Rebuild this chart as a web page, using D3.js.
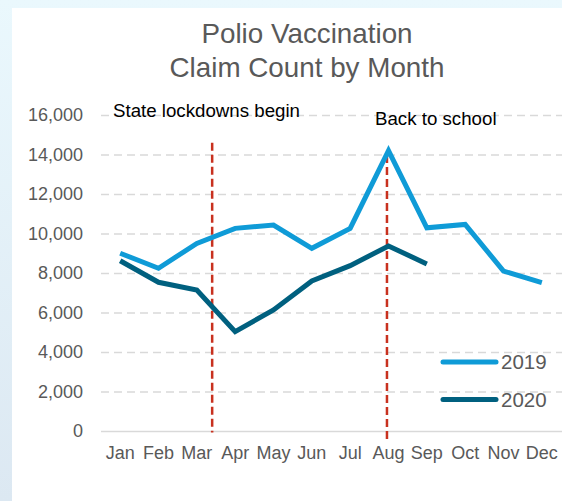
<!DOCTYPE html>
<html>
<head>
<meta charset="utf-8">
<script src="https://cdn.jsdelivr.net/npm/d3@7"></script>
<style>
  html, body { margin: 0; padding: 0; background: #fff; }
  svg { display: block; font-family: "Liberation Sans", Arial, sans-serif; }
</style>
</head>
<body>
<script>
// Monthly polio vaccination claim counts
const months = ["Jan","Feb","Mar","Apr","May","Jun","Jul","Aug","Sep","Oct","Nov","Dec"];
const claims2019 = [9000, 8240, 9500, 10260, 10430, 9250, 10260, 14190, 10290, 10460, 8100, 7510];
const claims2020 = [8620, 7530, 7140, 5030, 6130, 7600, 8370, 9370, 8460];
const yTicks = [0, 2000, 4000, 6000, 8000, 10000, 12000, 14000, 16000];
const seriesNames = ["2019", "2020"];
const seriesColors = ["#0F9BD7", "#00607F"];
const titleLines = ["Polio Vaccination", "Claim Count by Month"];
// Event markers: position in month index units (Jan = 0), vertical extent in claims
const events = [
  { label: "State lockdowns begin", at: 2.4, top: 14600, bottom: -80 },
  { label: "Back to school", at: 6.96, top: 13980, bottom: -400 }
];

const W = 562, H = 501;
const svg = d3.select("body").append("svg").attr("width", W).attr("height", H);

// Panel frame with a pale blue edge
const defs = svg.append("defs");
const grad = defs.append("linearGradient").attr("id", "edge").attr("x1", 0).attr("y1", 0).attr("x2", 0).attr("y2", 1);
grad.append("stop").attr("offset", "0%").attr("stop-color", "#EAF8FD");
grad.append("stop").attr("offset", "100%").attr("stop-color", "#DCE8F2");
svg.append("rect").attr("width", W).attr("height", H).attr("fill", "url(#edge)");
svg.append("rect").attr("x", 12).attr("y", 8).attr("width", W - 12).attr("height", H - 8).attr("fill", "#fff");

const plot = { left: 101, right: 561, top: 115, bottom: 431 };

const x = d3.scaleBand().domain(months).range([plot.left, plot.right]);
const xc = m => x(m) + x.bandwidth() / 2;
const xi = i => plot.left + (i + 0.5) * x.bandwidth();
const y = d3.scaleLinear().domain([0, 16000]).range([plot.bottom, plot.top]);

// Title
svg.append("g").selectAll("text").data(titleLines).join("text")
  .attr("x", 307).attr("y", (d, i) => 43 + i * 34)
  .attr("text-anchor", "middle")
  .attr("font-size", 27.8).attr("fill", "#595959")
  .text(d => d);

// Gridlines
const yAxis = d3.axisLeft(y).tickValues(yTicks).tickSize(0).tickPadding(18)
  .tickFormat(d3.format(","));
const gy = svg.append("g").attr("transform", `translate(${plot.left},0)`).call(yAxis);
gy.select(".domain").remove();
gy.selectAll("text").attr("font-size", 18).attr("fill", "#595959")
  .attr("font-family", "Liberation Sans, Arial, sans-serif");
gy.selectAll(".tick").append("line")
  .attr("x1", 0).attr("x2", plot.right - plot.left + 1)
  .attr("stroke", "#D9D9D9").attr("stroke-width", 1.6)
  .attr("stroke-dasharray", d => d === 0 ? null : "8,5");

// Month axis
const xAxis = d3.axisBottom(x).tickSize(0).tickPadding(15);
const gx = svg.append("g").attr("transform", `translate(0,${plot.bottom})`).call(xAxis);
gx.select(".domain").remove();
gx.selectAll("text").attr("font-size", 18).attr("fill", "#595959")
  .attr("font-family", "Liberation Sans, Arial, sans-serif");

// Event markers
events.forEach(e => {
  svg.append("line")
    .attr("x1", xi(e.at)).attr("x2", xi(e.at))
    .attr("y1", y(e.top)).attr("y2", y(e.bottom))
    .attr("stroke", "#C8311F").attr("stroke-width", 2.5)
    .attr("stroke-dasharray", "8,4");
});
svg.append("text").attr("x", 113).attr("y", 117).attr("font-size", 18.7).attr("fill", "#000")
  .text(events[0].label);
svg.append("text").attr("x", 375).attr("y", 125).attr("font-size", 18.7).attr("fill", "#000")
  .text(events[1].label);

// Series lines
const line = d3.line().x((d, i) => xc(months[i])).y(d => y(d));
[claims2019, claims2020].forEach((vals, k) => {
  svg.append("path").datum(vals)
    .attr("d", line)
    .attr("fill", "none")
    .attr("stroke", seriesColors[k])
    .attr("stroke-width", 5)
    .attr("stroke-linejoin", "miter")
    .attr("stroke-linecap", "butt");
});

// Legend
const lg = svg.append("g");
seriesNames.forEach((name, k) => {
  const ly = 362 + k * 37.5;
  lg.append("line").attr("x1", 443).attr("x2", 496).attr("y1", ly).attr("y2", ly)
    .attr("stroke", seriesColors[k]).attr("stroke-width", 5).attr("stroke-linecap", "round");
  lg.append("text").attr("x", 501).attr("y", ly + 7).attr("font-size", 20.5)
    .attr("fill", "#595959").text(name);
});
</script>
</body>
</html>
